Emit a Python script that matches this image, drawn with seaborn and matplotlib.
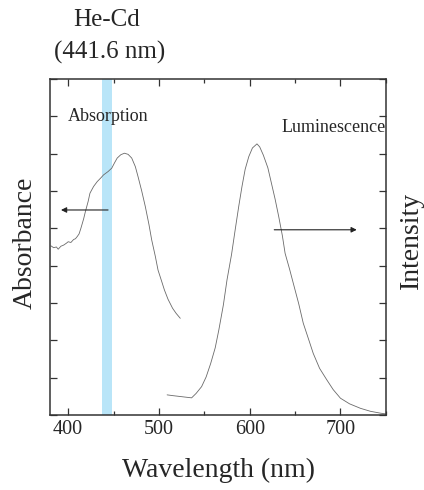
import numpy as np
import pandas as pd
import matplotlib
matplotlib.use('Agg')
import matplotlib.pyplot as plt
import seaborn as sns
from matplotlib.ticker import MultipleLocator

# Absorption spectrum (left axis, arbitrary units)
abs_wl = [381, 384, 387, 389, 392, 395, 398, 400, 403, 406, 408, 410, 412, 414,
          417, 419, 422, 424, 428, 432, 436, 439, 444, 448, 451, 454, 458, 462,
          466, 470, 474, 477, 481, 485, 489, 492, 496, 499, 503, 506, 510, 515,
          519, 523.5]
abs_val = [4.53, 4.48, 4.50, 4.44, 4.52, 4.55, 4.60, 4.64, 4.62, 4.70, 4.72, 4.78,
           4.85, 5.00, 5.25, 5.45, 5.72, 5.94, 6.12, 6.25, 6.35, 6.43, 6.52, 6.61,
           6.75, 6.88, 6.97, 7.01, 6.98, 6.88, 6.65, 6.38, 6.00, 5.58, 5.10, 4.69,
           4.25, 3.88, 3.58, 3.35, 3.10, 2.86, 2.72, 2.59]

# Luminescence spectrum (right axis, arbitrary units)
lum_wl = [509, 515, 522, 529, 536, 541, 547, 552, 557, 562, 566, 571, 575, 580,
          584, 588, 591.5, 595, 599, 603, 608, 611, 615, 620, 624, 628, 632, 636,
          639, 644, 648, 654, 659, 665, 670, 677, 685, 692, 700, 710, 722, 733,
          744, 750]
lum_val = [0.54, 0.52, 0.50, 0.48, 0.46, 0.58, 0.76, 1.02, 1.38, 1.80, 2.28, 2.95,
           3.62, 4.30, 4.96, 5.60, 6.12, 6.58, 6.92, 7.15, 7.26, 7.18, 6.96, 6.62,
           6.20, 5.78, 5.31, 4.80, 4.33, 3.90, 3.53, 2.98, 2.46, 2.02, 1.65, 1.25,
           0.94, 0.68, 0.45, 0.30, 0.18, 0.10, 0.05, 0.03]

laser_band = (437, 448)

absorption = pd.DataFrame({'wavelength': abs_wl, 'signal': abs_val})
luminescence = pd.DataFrame({'wavelength': lum_wl, 'signal': lum_val})

sns.set_style('ticks')
plt.rcParams['font.family'] = ['Liberation Serif', 'DejaVu Serif']
plt.rcParams['xtick.direction'] = 'in'
plt.rcParams['ytick.direction'] = 'in'

fig = plt.figure(figsize=(4.24, 4.90), dpi=100)
ax = fig.add_axes([0.118, 0.153, 0.792, 0.686])

ax.axvspan(*laser_band, color='#b9e5f8', lw=0, zorder=0)
sns.lineplot(data=absorption, x='wavelength', y='signal', ax=ax,
             color='#6a6a6a', lw=0.6)
sns.lineplot(data=luminescence, x='wavelength', y='signal', ax=ax,
             color='#6a6a6a', lw=0.6)

ax.set_xlim(380, 750)
ax.set_ylim(0, 9)
ax.xaxis.set_major_locator(MultipleLocator(100))
ax.xaxis.set_minor_locator(MultipleLocator(50))
ax.yaxis.set_major_locator(MultipleLocator(1))
ax.set_yticklabels([])
ax.tick_params(axis='both', which='major', length=5, width=0.9, labelsize=14.5,
               top=True, right=True, color='#333333')
ax.tick_params(axis='x', which='minor', length=3, width=0.9, top=True, color='#333333')
for s in ax.spines.values():
    s.set_linewidth(1.1)
    s.set_color('#333333')
ax.set_xlabel('')
ax.set_ylabel('')

# arrows pointing to the relevant axis
ax.annotate('', xy=(389, 5.49), xytext=(447, 5.49),
            arrowprops=dict(arrowstyle='-|>', color='#222222', lw=0.8,
                            mutation_scale=8))
ax.annotate('', xy=(721, 4.96), xytext=(624, 4.96),
            arrowprops=dict(arrowstyle='-|>', color='#222222', lw=0.8,
                            mutation_scale=8))

ax.text(400, 7.98, 'Absorption', fontsize=13, va='center', ha='left')
ax.text(635, 7.69, 'Luminescence', fontsize=13, va='center', ha='left')

fig.text(107 / 424, 1 - 20 / 490, 'He-Cd', fontsize=18, ha='center', va='center')
fig.text(110 / 424, 1 - 52 / 490, '(441.6 nm)', fontsize=18, ha='center', va='center')
fig.text(219 / 424, 1 - 470 / 490, 'Wavelength (nm)', fontsize=20,
         ha='center', va='center')
fig.text(25 / 424, 1 - 243 / 490, 'Absorbance', fontsize=20, rotation=90,
         ha='center', va='center')
fig.text(411 / 424, 1 - 240 / 490, 'Intensity', fontsize=20, rotation=90,
         ha='center', va='center')

fig.savefig('out.png', dpi=100)
